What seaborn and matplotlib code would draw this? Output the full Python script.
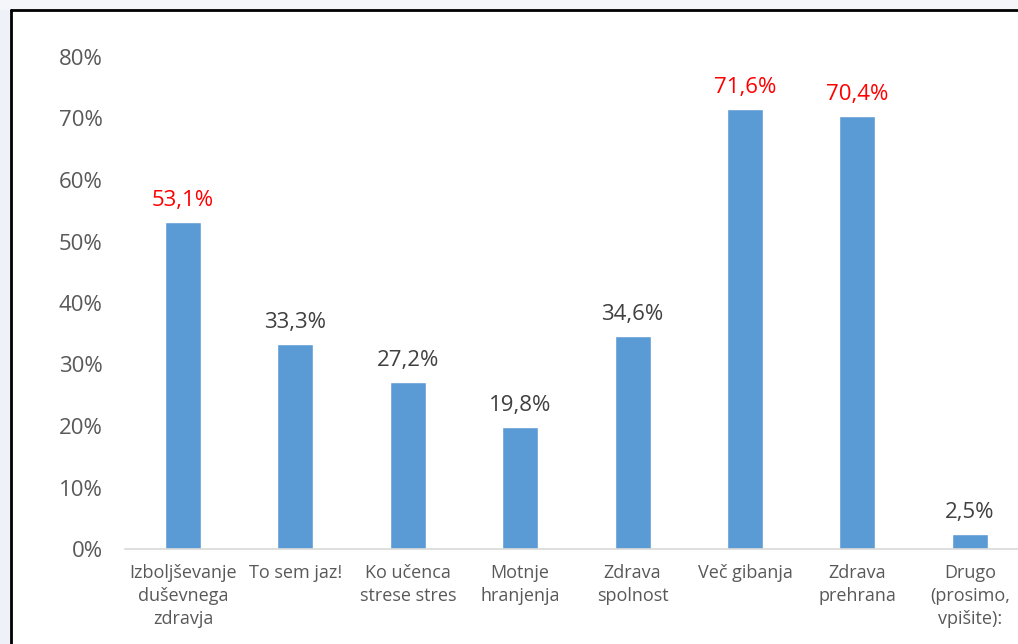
import matplotlib
matplotlib.use("Agg")
import matplotlib.pyplot as plt
import seaborn as sns
import pandas as pd
from matplotlib.patches import Rectangle
from matplotlib.lines import Line2D

categories = ["Izboljševanje\nduševnega\nzdravja", "To sem jaz!", "Ko učenca\nstrese stres",
              "Motnje\nhranjenja", "Zdrava\nspolnost", "Več gibanja", "Zdrava\nprehrana",
              "Drugo\n(prosimo,\nvpišite):"]
values = [53.1, 33.3, 27.2, 19.8, 34.6, 71.6, 70.4, 2.5]
highlight = [True, False, False, False, False, True, True, False]
yticks = [0, 10, 20, 30, 40, 50, 60, 70, 80]

sns.set_theme(style="white")
plt.rcParams['font.family'] = ['Open Sans', 'DejaVu Sans']

W, H = 1018, 644
fig = plt.figure(figsize=(W/100, H/100), dpi=100)
fig.patch.set_facecolor("white")

# outer background strips and frame
fig.add_artist(Rectangle((0, 0), 10/W, 1, transform=fig.transFigure, color="#eef1f8", zorder=0))
fig.add_artist(Rectangle((0, 1-9/H), 1, 9/H, transform=fig.transFigure, color="#f5f6fa", zorder=0))
fig.add_artist(Line2D([11/W, 11/W], [0, 1-10/H], transform=fig.transFigure, color="black", lw=2))
fig.add_artist(Line2D([11/W, 1], [1-10/H, 1-10/H], transform=fig.transFigure, color="black", lw=2))

ax_left = 125/W
ax_w = 8*112.4/W
y0 = 1 - 549/H
y80 = 1 - 57/H
ax = fig.add_axes([ax_left, y0, ax_w, y80 - y0])
ax.set_facecolor("none")

df = pd.DataFrame({"cat": categories, "val": values})
sns.barplot(data=df, x="cat", y="val", color="#5b9bd5", width=0.32, saturation=1, ax=ax)

ax.set_ylim(0, 80)
ax.set_xlim(-0.516, 7.484)
ax.set_yticks(yticks)
ax.set_yticklabels([f"{t}%" for t in yticks])
ax.set_xlabel("")
ax.set_ylabel("")
for s in ["top", "right", "left"]:
    ax.spines[s].set_visible(False)
ax.spines["bottom"].set_color("#d9d9d9")
ax.spines["bottom"].set_linewidth(1.2)
ax.tick_params(axis="y", length=0, pad=16, labelsize=16, labelcolor="#595959")
ax.tick_params(axis="x", length=0, pad=11, labelsize=13, labelcolor="#595959")
for lab in ax.get_xticklabels():
    lab.set_linespacing(1.35)

for i, (v, hl) in enumerate(zip(values, highlight)):
    ax.annotate(f"{v:.1f}%".replace(".", ","), (i, v), xytext=(0, 8), textcoords="offset points",
                ha="center", va="bottom", fontsize=16, color="#ff0000" if hl else "#404040")

fig.savefig("out.png", dpi=100)
